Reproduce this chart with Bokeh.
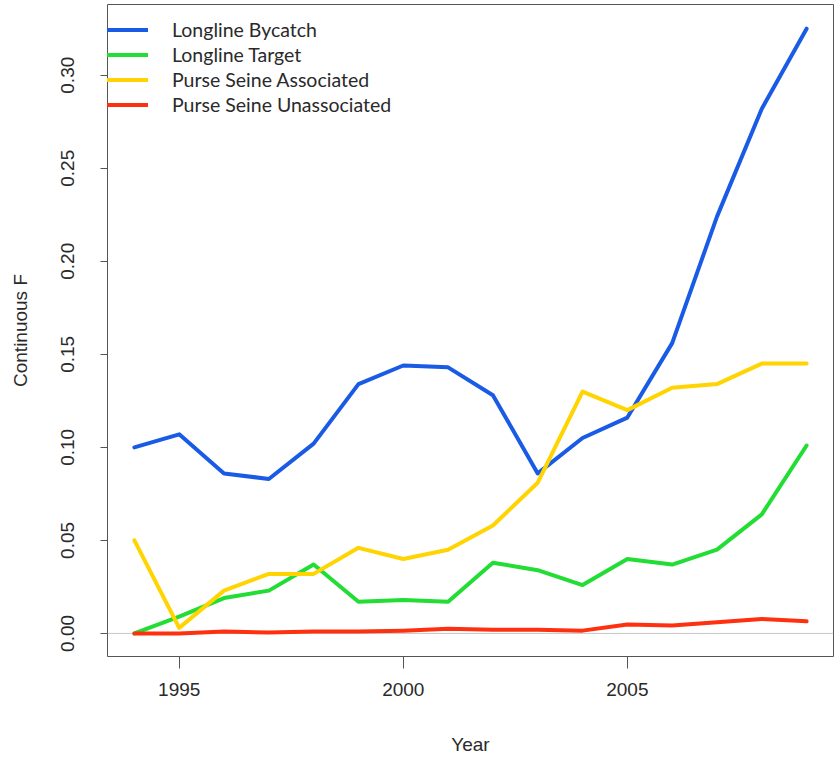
from bokeh.plotting import figure
from bokeh.models import Legend, LegendItem, Span, FixedTicker, Range1d, NumeralTickFormatter
from bokeh.embed import file_html
from bokeh.resources import INLINE

years = list(range(1994, 2010))
longline_bycatch = [0.100, 0.107, 0.086, 0.083, 0.102, 0.134, 0.144, 0.143,
                    0.128, 0.086, 0.105, 0.116, 0.156, 0.224, 0.282, 0.325]
longline_target = [0.000, 0.009, 0.019, 0.023, 0.037, 0.017, 0.018, 0.017,
                   0.038, 0.034, 0.026, 0.040, 0.037, 0.045, 0.064, 0.101]
purse_seine_assoc = [0.050, 0.003, 0.023, 0.032, 0.032, 0.046, 0.040, 0.045,
                     0.058, 0.081, 0.130, 0.120, 0.132, 0.134, 0.145, 0.145]
purse_seine_unassoc = [0.000, 0.000, 0.001, 0.0005, 0.001, 0.001, 0.0015, 0.0025,
                       0.002, 0.002, 0.0015, 0.0048, 0.0042, 0.006, 0.0078, 0.0065]

series_names = ["Longline Bycatch", "Longline Target",
                "Purse Seine Associated", "Purse Seine Unassociated"]
series_values = [longline_bycatch, longline_target, purse_seine_assoc, purse_seine_unassoc]
series_colors = ["#1a5be6", "#22dd33", "#ffd400", "#ff3010"]

x_ticks = [1995, 2000, 2005]
y_ticks = [0.0, 0.05, 0.10, 0.15, 0.20, 0.25, 0.30]

FONT = "Liberation Sans"
TXT = "#2a2a2a"
EDGE = "#555555"

p = figure(width=836, height=759,
           x_range=Range1d(1993.4, 2009.6), y_range=Range1d(-0.0124, 0.338),
           output_backend="svg", toolbar_location=None,
           min_border_left=107, min_border_right=3, min_border_top=4, min_border_bottom=103)
p.xgrid.visible = False
p.ygrid.visible = False
p.outline_line_color = EDGE
p.outline_line_width = 1

zero = Span(location=0, dimension="width", line_color="#c8c8c8", line_width=1, level="underlay")
p.add_layout(zero)

renderers = []
for name, vals, col in zip(series_names, series_values, series_colors):
    r = p.line(years, vals, line_color=col, line_width=4, line_join="round", line_cap="round")
    renderers.append((name, r))

for ax in (p.xaxis[0], p.yaxis[0]):
    ax.axis_line_color = None
    ax.major_tick_in = 0
    ax.minor_tick_line_color = None
    ax.major_tick_line_color = EDGE
    ax.major_label_text_font = FONT
    ax.major_label_text_font_size = "19px"
    ax.major_label_text_color = TXT
    ax.axis_label_text_font = FONT
    ax.axis_label_text_font_size = "19px"
    ax.axis_label_text_font_style = "normal"
    ax.axis_label_text_color = TXT

p.xaxis.ticker = FixedTicker(ticks=x_ticks)
p.xaxis.major_tick_out = 12
p.xaxis.major_label_standoff = 14
p.xaxis.axis_label = "Year"
p.xaxis.axis_label_standoff = 35

p.yaxis.ticker = FixedTicker(ticks=y_ticks)
p.yaxis.formatter = NumeralTickFormatter(format="0.00")
p.yaxis.major_tick_out = 7
p.yaxis.major_label_orientation = "parallel"
p.yaxis.major_label_standoff = 26
p.yaxis.axis_label = "Continuous F"
p.yaxis.axis_label_standoff = 28

legend = Legend(items=[LegendItem(label=n, renderers=[r]) for n, r in renderers],
                location=(0, 539), orientation="vertical",
                label_text_font="Lato", label_text_font_size="19.5px", label_text_color=TXT,
                glyph_width=41, glyph_height=25, label_height=25, label_standoff=24,
                spacing=0, padding=4, margin=0,
                border_line_color=None, background_fill_alpha=0)
p.add_layout(legend)

open("out.html", "w").write(file_html(p, INLINE))
